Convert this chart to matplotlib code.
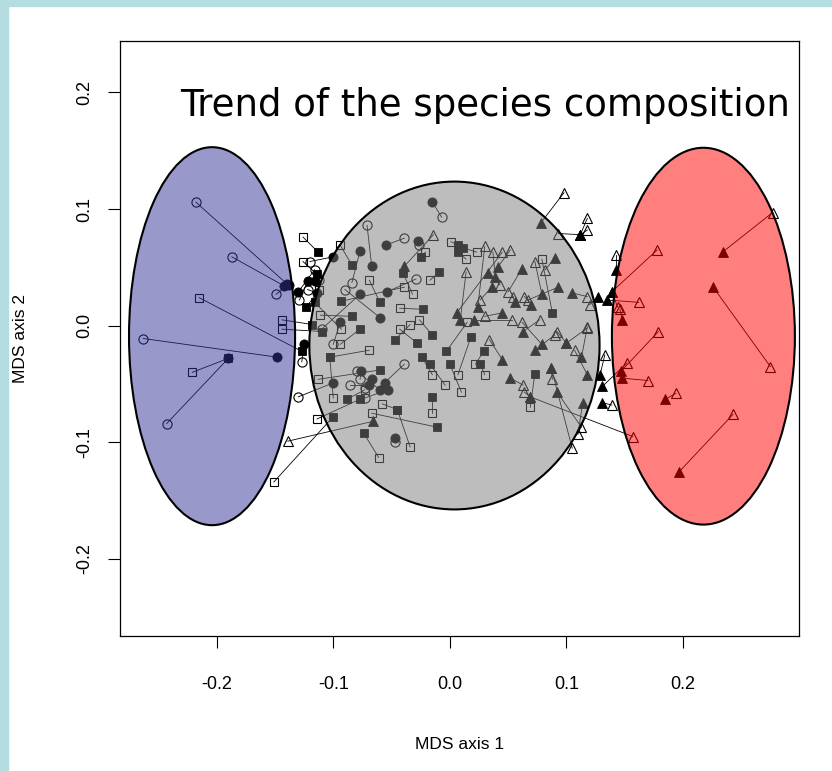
import matplotlib
matplotlib.use("Agg")
import matplotlib.pyplot as plt
from matplotlib.patches import Ellipse, Rectangle

# open symbol -> filled symbol (MDS axis 1, MDS axis 2)
circ_open_x = [-0.218, -0.187, -0.149, -0.263, -0.243, -0.127, -0.130, -0.007, -0.071, -0.039,
               -0.084, -0.120, -0.029, -0.047, -0.073, -0.080, -0.110, -0.090, -0.026, -0.129,
               -0.112, -0.122, -0.073, -0.077, -0.100, -0.116, -0.039, -0.086]
circ_open_y = [0.106, 0.059, 0.027, -0.011, -0.084, -0.031, -0.061, 0.093, 0.086, 0.075,
               0.037, 0.055, 0.040, -0.100, -0.053, -0.039, -0.003, 0.031, 0.069, 0.022,
               0.039, 0.031, -0.062, -0.046, -0.016, 0.048, -0.033, -0.051]
circ_fill_x = [-0.140, -0.142, -0.138, -0.148, -0.190, -0.125, -0.100, -0.015, -0.067, -0.055,
               -0.077, -0.100, -0.054, -0.047, -0.067, -0.060, -0.077, -0.060, -0.027, -0.122,
               -0.116, -0.114, -0.053, -0.076, -0.094, -0.130, -0.056, -0.069]
circ_fill_y = [0.036, 0.034, 0.035, -0.027, -0.028, -0.016, -0.049, 0.106, 0.051, 0.069,
               0.064, 0.059, 0.029, -0.096, -0.046, -0.055, 0.027, 0.007, 0.073, 0.038,
               0.038, 0.028, -0.055, -0.039, 0.003, 0.029, -0.049, -0.051]

sq_open_x = [-0.215, -0.221, -0.144, -0.144, -0.126, -0.126, -0.114, -0.151, -0.094, -0.069,
             -0.021, -0.039, -0.032, -0.043, -0.111, -0.017, 0.001, 0.023, 0.014, 0.079,
             0.015, 0.022, 0.007, 0.010, 0.069, -0.069, -0.113, -0.100, -0.073, -0.058,
             -0.034, -0.061, -0.067, -0.015, -0.015, -0.112, -0.093, -0.043, -0.026, 0.030,
             -0.034, -0.094, -0.004]
sq_open_y = [0.024, -0.040, 0.005, -0.003, 0.076, 0.055, -0.080, -0.134, 0.069, 0.039,
             0.063, 0.033, 0.027, 0.015, 0.009, 0.039, 0.072, 0.063, 0.057, 0.057,
             0.003, -0.033, -0.042, -0.057, -0.070, -0.021, -0.046, -0.062, -0.055, -0.067,
             -0.104, -0.113, -0.075, -0.042, -0.075, 0.031, -0.003, -0.003, 0.005, -0.042,
             0.001, -0.016, -0.051]
sq_fill_x = [-0.127, -0.190, -0.118, -0.110, -0.113, -0.114, -0.077, -0.100, -0.084, -0.060,
             -0.025, -0.093, -0.040, -0.023, -0.084, -0.009, 0.007, 0.011, 0.007, 0.088,
             -0.003, 0.029, 0.018, 0.000, 0.073, -0.103, -0.060, -0.103, -0.088, -0.045,
             -0.045, -0.074, -0.011, -0.024, -0.015, -0.123, -0.116, -0.028, -0.015, 0.026,
             -0.047, -0.077, -0.017]
sq_fill_y = [-0.022, -0.028, 0.001, -0.005, 0.063, 0.044, -0.063, -0.078, 0.052, 0.020,
             0.059, 0.021, 0.045, 0.014, 0.008, 0.046, 0.069, 0.067, 0.063, 0.011,
             -0.022, -0.022, -0.010, -0.033, -0.041, -0.027, -0.038, -0.027, -0.063, -0.072,
             -0.072, -0.092, -0.087, -0.027, -0.061, 0.016, 0.020, -0.015, -0.008, -0.033,
             -0.012, -0.003, -0.033]

tri_open_x = [0.098, 0.118, 0.118, 0.093, 0.082, 0.030, 0.037, 0.045, 0.014, 0.050,
              0.118, 0.120, 0.067, 0.054, 0.064, 0.043, 0.030, 0.053, 0.062, 0.090,
              0.092, 0.118, 0.088, 0.063, 0.064, 0.113, 0.110, 0.105, 0.133, 0.139,
              0.143, 0.144, 0.146, 0.162, 0.178, 0.277, 0.275, 0.179, 0.170, 0.194,
              0.243, 0.157, 0.152, 0.118, -0.139, -0.014, 0.026, 0.052, 0.034, 0.077,
              0.107, 0.073]
tri_open_y = [0.114, 0.092, 0.082, 0.079, 0.048, 0.068, 0.063, 0.063, 0.046, 0.029,
              0.025, 0.018, 0.022, 0.025, 0.025, 0.035, 0.008, 0.005, 0.003, -0.008,
              -0.005, -0.002, -0.046, -0.051, -0.057, -0.087, -0.093, -0.105, -0.025, -0.068,
              0.061, 0.016, 0.014, 0.020, 0.065, 0.097, -0.035, -0.005, -0.047, -0.058,
              -0.076, -0.095, -0.032, -0.001, -0.099, 0.078, 0.022, 0.065, -0.012, 0.005,
              -0.021, 0.055]
tri_fill_x = [0.078, 0.112, 0.112, 0.112, 0.090, 0.024, 0.039, 0.006, 0.009, 0.062,
              0.105, 0.127, 0.093, 0.056, 0.070, 0.033, 0.045, 0.021, 0.079, 0.073,
              0.100, 0.100, 0.087, 0.052, 0.069, 0.092, 0.114, 0.087, 0.129, 0.131,
              0.143, 0.139, 0.148, 0.135, 0.139, 0.234, 0.226, 0.147, 0.148, 0.185,
              0.197, 0.069, 0.131, 0.113, -0.066, -0.039, 0.036, 0.041, 0.045, 0.063,
              0.118, 0.079]
tri_fill_y = [0.088, 0.078, 0.078, 0.078, 0.058, 0.016, 0.042, 0.011, 0.005, 0.049,
              0.028, 0.025, 0.033, 0.020, 0.018, 0.045, 0.011, 0.005, -0.016, -0.021,
              -0.015, -0.015, -0.036, -0.045, -0.061, -0.057, -0.066, -0.036, -0.042, -0.066,
              0.048, 0.029, 0.005, 0.022, 0.029, 0.063, 0.033, -0.039, -0.045, -0.063,
              -0.125, -0.061, -0.052, -0.027, -0.082, 0.051, 0.033, 0.050, -0.029, -0.005,
              -0.042, 0.027]

# clusters drawn as translucent ellipses: centre x, centre y, width, height, colour
ell_x = [-0.204, 0.004, 0.2176]
ell_y = [-0.009, -0.017, -0.009]
ell_w = [0.1425, 0.249, 0.157]
ell_h = [0.324, 0.281, 0.323]
ell_col = ['#333399', '#7d7d7d', '#ff0000']

ticks = [-0.2, -0.1, 0.0, 0.1, 0.2]
tick_labels = ['-0.2', '-0.1', '0.0', '0.1', '0.2']

plt.rcParams['font.family'] = 'Liberation Sans'

fig = plt.figure(figsize=(8.32, 7.71), dpi=100)
fig.patches.append(Rectangle((0, 1 - 6 / 771), 1, 6 / 771, transform=fig.transFigure,
                             color='#b3dde0', zorder=0))
fig.patches.append(Rectangle((0, 0), 8 / 832, 1, transform=fig.transFigure,
                             color='#b3dde0', zorder=0))
ax = fig.add_axes([0.1442, 0.1751, 0.8161, 0.7717])

groups = [
    (circ_open_x, circ_open_y, circ_fill_x, circ_fill_y, 'o', 6.6),
    (sq_open_x, sq_open_y, sq_fill_x, sq_fill_y, 's', 6.0),
    (tri_open_x, tri_open_y, tri_fill_x, tri_fill_y, '^', 7.0),
]
for ox, oy, fx, fy, mk, ms in groups:
    for i in range(len(ox)):
        ax.plot([ox[i], fx[i]], [oy[i], fy[i]], color='black', lw=0.6, zorder=1)
    ax.plot(fx, fy, ls='none', marker=mk, ms=ms, mfc='black', mec='black', mew=0.6, zorder=2)
    ax.plot(ox, oy, ls='none', marker=mk, ms=ms, mfc='none', mec='black', mew=0.8, zorder=2)

for cx, cy, w, h, c in zip(ell_x, ell_y, ell_w, ell_h, ell_col):
    ax.add_patch(Ellipse((cx, cy), w, h, facecolor=c, alpha=0.5, edgecolor='none', zorder=3))
    ax.add_patch(Ellipse((cx, cy), w, h, facecolor='none', edgecolor='black', lw=1.5, zorder=4))

ax.text(0.088, 0.892, 'Trend of the species composition', transform=ax.transAxes,
        fontsize=26.7, family='DejaVu Sans', va='center', ha='left', zorder=5)

ax.set_xlim(-0.283, 0.2996)
ax.set_ylim(-0.266, 0.244)
ax.set_xticks(ticks)
ax.set_xticklabels(tick_labels)
ax.set_yticks(ticks)
ax.set_yticklabels(tick_labels, rotation=90, va='center')
ax.tick_params(direction='out', length=8.6, width=0.8, labelsize=13)
ax.tick_params(axis='x', pad=20)
ax.tick_params(axis='y', pad=11)
for s in ax.spines.values():
    s.set_linewidth(0.9)

ax.set_xlabel('MDS axis 1', fontsize=12.5)
ax.set_ylabel('MDS axis 2', fontsize=12.5)
ax.xaxis.set_label_coords(0.5, -0.170)
ax.yaxis.set_label_coords(-0.1355, 0.5)

fig.savefig('out.png', dpi=100)
